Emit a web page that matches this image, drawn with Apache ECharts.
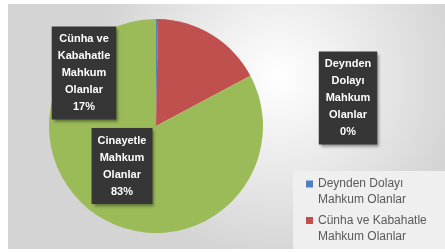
<!DOCTYPE html>
<html>
<head>
<meta charset="utf-8">
<script src="https://cdn.jsdelivr.net/npm/echarts@6/dist/echarts.min.js"></script>
<style>
  html, body { margin: 0; padding: 0; background: #fff; }
  #chart { width: 445px; height: 252px; }
</style>
</head>
<body>
<div id="chart"></div>
<script>
// slices, clockwise from 12 o'clock
const names = ['Deynden Dolayı Mahkum Olanlar', 'Cünha ve Kabahatle Mahkum Olanlar', 'Cinayetle Mahkum Olanlar'];
const values = [0.3, 16.9, 82.8];
const colors = ['#4f81bd', '#c0504d', '#9bbb59'];
const legendNames = ['Deynden Dolayı Mahkum Olanlar', 'Cünha ve Kabahatle Mahkum Olanlar'];

// where each data label box sits (center)
const labelSpots = [[348, 98], [84, 73], [122, 166]];

const chart = echarts.init(document.getElementById('chart'));

// break label name word by word, keep short words ("ve") on the previous line
function wrapName(name) {
  const out = [];
  name.split(' ').forEach(w => {
    if (w.length < 3 && out.length) out[out.length - 1] += ' ' + w;
    else out.push(w);
  });
  return out.join('\n');
}

chart.setOption({
  animation: false,
  backgroundColor: '#fff',
  graphic: [
    {
      type: 'rect',
      z: -10,
      shape: { x: 8, y: 4, width: 437, height: 245 },
      style: {
        fill: new echarts.graphic.RadialGradient(0.62, 0.3, 0.75, [
          { offset: 0, color: '#ffffff' },
          { offset: 1, color: '#d4d4d4' }
        ])
      }
    },
    {
      type: 'rect',
      z: -9,
      shape: { x: 293, y: 171, width: 152, height: 78 },
      style: { fill: '#efefef' }
    }
  ],
  legend: {
    data: legendNames,
    orient: 'vertical',
    left: 306,
    top: 160,
    padding: 0,
    itemWidth: 7,
    itemHeight: 7,
    itemGap: -11.5,
    icon: 'rect',
    // blank first line so the square lines up with the first text line
    formatter: n => ' \n' + n.replace(' Mahkum', '\nMahkum'),
    textStyle: {
      fontFamily: 'Liberation Sans',
      fontSize: 12,
      color: '#595959',
      lineHeight: 16
    }
  },
  series: [{
    type: 'pie',
    center: [156, 126],
    radius: 107,
    startAngle: 90,
    clockwise: true,
    percentPrecision: 0,
    itemStyle: { borderWidth: 0 },
    label: {
      show: true,
      position: 'inside',
      formatter: p => wrapName(p.name) + '\n' + p.percent + '%',
      fontFamily: 'Liberation Sans',
      fontWeight: 'bold',
      fontSize: 11,
      lineHeight: 17,
      color: '#ffffff',
      align: 'center',
      overflow: 'none',
      backgroundColor: '#363636',
      padding: [4, 6],
      shadowColor: 'rgba(0,0,0,0.45)',
      shadowBlur: 3,
      shadowOffsetX: 2,
      shadowOffsetY: 2
    },
    labelLine: { show: false },
    labelLayout: p => ({
      x: labelSpots[p.dataIndex][0],
      y: labelSpots[p.dataIndex][1],
      align: 'center',
      verticalAlign: 'middle'
    }),
    emphasis: { disabled: true },
    data: names.map((n, i) => ({ name: n, value: values[i], itemStyle: { color: colors[i] } }))
  }]
});
</script>
</body>
</html>
